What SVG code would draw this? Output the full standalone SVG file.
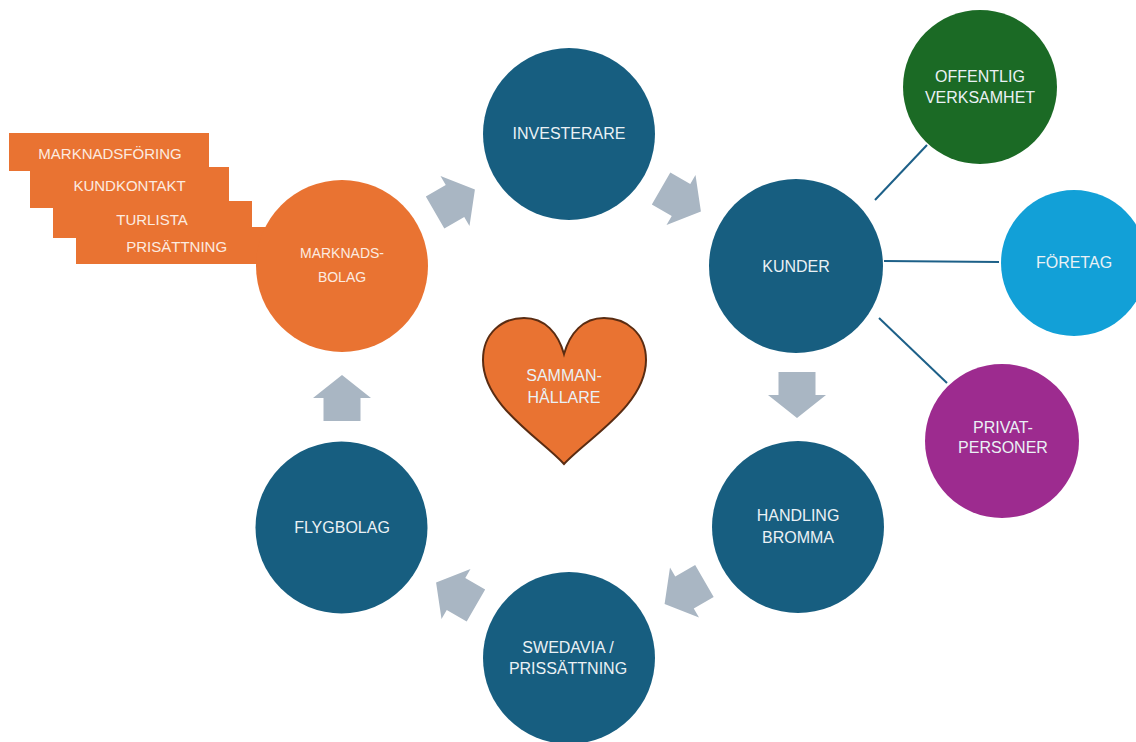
<svg xmlns="http://www.w3.org/2000/svg" width="1136" height="742" viewBox="0 0 1136 742">
  <defs>
    <!-- block arrow pointing along +x, centred on the origin -->
    <path id="blockArrow" d="M-23,-18.5 H0 V-29 L23,0 L0,29 V18.5 H-23 Z"/>
  </defs>
  <style>
    text { font-family: "Liberation Sans", Arial, sans-serif; text-anchor: middle; }
    .hub { fill: #175e80; }
    .lbl { fill: #eaf1f5; font-size: 16px; }
    .olbl { fill: #fcebe0; font-size: 15px; }
    .orange { fill: #e97332; }
    .flow { fill: #a9b6c3; }
    .link { stroke: #1d6088; stroke-width: 2; fill: none; }
  </style>
  <rect width="1136" height="742" fill="#ffffff"/>

  <!-- spokes from KUNDER to customer groups -->
  <g id="connectors">
    <line class="link" x1="875" y1="200" x2="927" y2="145"/>
    <line class="link" x1="884" y1="261" x2="999" y2="262"/>
    <line class="link" x1="879" y1="318" x2="947" y2="383"/>
  </g>

  <!-- cycle arrows -->
  <g id="flow-arrows">
    <use href="#blockArrow" class="flow" transform="translate(455,201) rotate(-30)"/>
    <use href="#blockArrow" class="flow" transform="translate(681,200) rotate(30)"/>
    <use href="#blockArrow" class="flow" transform="translate(797,395) rotate(90)"/>
    <use href="#blockArrow" class="flow" transform="translate(684.5,592.5) rotate(150)"/>
    <use href="#blockArrow" class="flow" transform="translate(456,594) rotate(-150)"/>
    <use href="#blockArrow" class="flow" transform="translate(342,398) rotate(-90)"/>
  </g>

  <!-- task tabs behind the marketing company -->
  <g id="tasks">
    <rect class="orange" x="9" y="133" width="200" height="38"/>
    <rect class="orange" x="30" y="167" width="199" height="41"/>
    <rect class="orange" x="53" y="201" width="199" height="37"/>
    <rect class="orange" x="76" y="227" width="200" height="37"/>
    <text class="olbl" x="110" y="158.7">MARKNADSFÖRING</text>
    <text class="olbl" x="129.5" y="191">KUNDKONTAKT</text>
    <text class="olbl" x="152" y="225.4">TURLISTA</text>
    <text class="olbl" x="176.7" y="252">PRISÄTTNING</text>
  </g>

  <g id="marknadsbolag">
    <circle class="orange" cx="342" cy="266" r="86"/>
    <text fill="#fcebe0" font-size="14" x="342" y="258.4">MARKNADS-</text>
    <text fill="#fcebe0" font-size="14" x="342" y="281.7">BOLAG</text>
  </g>

  <g id="investerare">
    <circle class="hub" cx="569" cy="134" r="86"/>
    <text class="lbl" x="569" y="139">INVESTERARE</text>
  </g>

  <g id="kunder">
    <circle class="hub" cx="796" cy="266" r="87"/>
    <text class="lbl" x="796" y="272">KUNDER</text>
  </g>

  <g id="handling-bromma">
    <circle class="hub" cx="798" cy="527" r="86"/>
    <text class="lbl" x="798" y="521">HANDLING</text>
    <text class="lbl" x="798" y="542.5">BROMMA</text>
  </g>

  <g id="swedavia">
    <circle class="hub" cx="569" cy="658" r="86"/>
    <text class="lbl" x="568" y="653">SWEDAVIA /</text>
    <text class="lbl" x="568" y="674">PRISSÄTTNING</text>
  </g>

  <g id="flygbolag">
    <circle class="hub" cx="341.5" cy="527.5" r="86"/>
    <text class="lbl" x="342" y="532.5">FLYGBOLAG</text>
  </g>

  <g id="sammanhallare">
    <path d="M564,464 C540,438 483,405 483,360 C483,333 502,318 524,318 C545,318 558,333 564,354 C570,333 583,318 604,318 C626,318 646,333 646,360 C646,405 588,438 564,464 Z"
          fill="#e97332" stroke="#5a2c12" stroke-width="2"/>
    <text class="lbl" x="564" y="381">SAMMAN-</text>
    <text class="lbl" x="564" y="402.5">HÅLLARE</text>
  </g>

  <g id="offentlig">
    <circle cx="980" cy="87" r="77" fill="#1b6a25"/>
    <text class="lbl" x="980" y="82">OFFENTLIG</text>
    <text class="lbl" x="980" y="102.5">VERKSAMHET</text>
  </g>

  <g id="foretag">
    <circle cx="1074" cy="263" r="73" fill="#12a0d7"/>
    <text class="lbl" x="1074" y="267.5">FÖRETAG</text>
  </g>

  <g id="privatpersoner">
    <circle cx="1002" cy="441" r="77" fill="#9d2b8f"/>
    <text class="lbl" x="1003" y="432.5">PRIVAT-</text>
    <text class="lbl" x="1003" y="452.5">PERSONER</text>
  </g>
</svg>
